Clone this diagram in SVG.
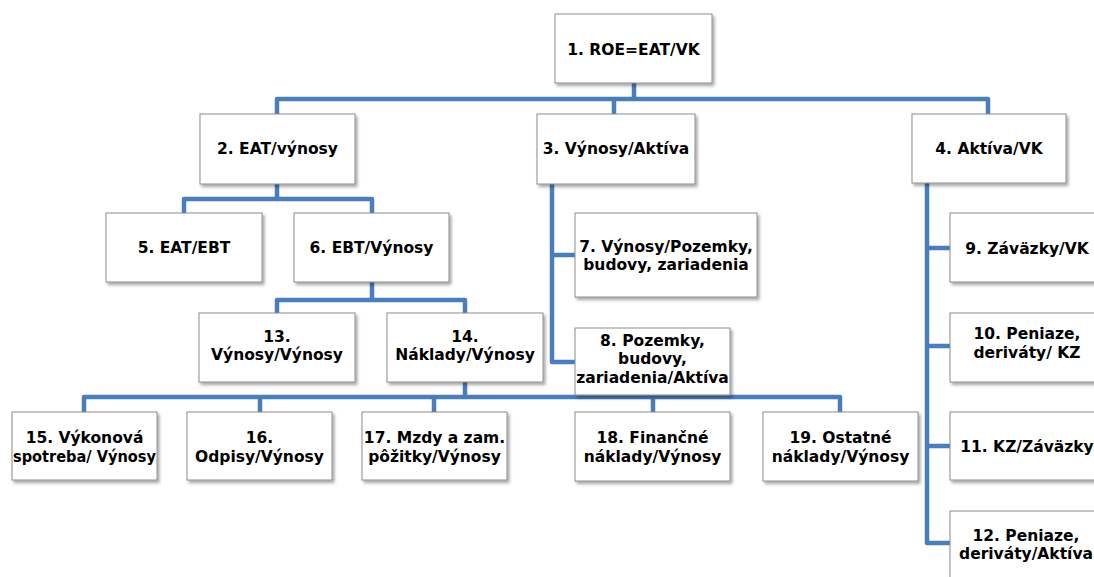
<svg xmlns="http://www.w3.org/2000/svg" width="1094" height="577" viewBox="0 0 1094 577">
<defs>
<filter id="sh" x="-10%" y="-10%" width="125%" height="130%">
<feDropShadow dx="2" dy="2.5" stdDeviation="1.5" flood-color="#000" flood-opacity="0.35"/>
</filter>
<style>
.box{fill:#fff;stroke:#8c8c8c;stroke-width:1;filter:url(#sh)}
.t{font-family:"DejaVu Sans","Liberation Sans",sans-serif;font-weight:bold;font-size:15.5px;fill:#000;text-anchor:middle}
.c{fill:none;stroke:#4a7ebb;stroke-width:4.5;stroke-linejoin:round;stroke-linecap:butt}
</style>
</defs>
<rect width="1094" height="577" fill="#fff"/>
<g id="connectors">
<path class="c" d="M634,83 V99 M277,114 V99 H988 V114 M614,99 V114"/>
<path class="c" d="M277,184 V199 M184,213 V199 H372 V213"/>
<path class="c" d="M372,282 V300 M277,313 V300 H465 V313"/>
<path class="c" d="M465,382 V397 M84,412 V397 H840 V412 M260,397 V412 M434,397 V412 M653,397 V412"/>
<path class="c" d="M552,184 V362 H575 M552,255 H575"/>
<path class="c" d="M927,183 V543 H950 M927,248 H950 M927,346 H950 M927,446 H950"/>
</g>
<g id="n1"><rect class="box" x="555" y="14" width="157" height="69"/><text class="t" x="633.5" y="55">1. ROE=EAT/VK</text></g>
<g id="n2"><rect class="box" x="200" y="114" width="155" height="70"/><text class="t" x="277.5" y="154">2. EAT/výnosy</text></g>
<g id="n3"><rect class="box" x="537" y="114" width="158" height="70"/><text class="t" x="616" y="154">3. Výnosy/Aktíva</text></g>
<g id="n4"><rect class="box" x="912" y="114" width="154" height="69"/><text class="t" x="989" y="154">4. Aktíva/VK</text></g>
<g id="n5"><rect class="box" x="106" y="213" width="156" height="69"/><text class="t" x="184" y="253">5. EAT/EBT</text></g>
<g id="n6"><rect class="box" x="294" y="213" width="155" height="69"/><text class="t" x="371.5" y="253">6. EBT/Výnosy</text></g>
<g id="n7"><rect class="box" x="575" y="213" width="182" height="84"/><text class="t" x="666" y="252">7. Výnosy/Pozemky,</text><text class="t" x="666" y="270">budovy, zariadenia</text></g>
<g id="n8"><rect class="box" x="575" y="328" width="155" height="67"/><text class="t" x="652.5" y="346">8. Pozemky,</text><text class="t" x="652.5" y="364">budovy,</text><text class="t" x="652.5" y="383">zariadenia/Aktíva</text></g>
<g id="n9"><rect class="box" x="950" y="213" width="154" height="69"/><text class="t" x="1027" y="254">9. Záväzky/VK</text></g>
<g id="n10"><rect class="box" x="950" y="313" width="154" height="69"/><text class="t" x="1027" y="339">10. Peniaze,</text><text class="t" x="1027" y="358">deriváty/ KZ</text></g>
<g id="n11"><rect class="box" x="950" y="412" width="154" height="68"/><text class="t" x="1027" y="452">11. KZ/Záväzky</text></g>
<g id="n12"><rect class="box" x="950" y="511" width="154" height="72"/><text class="t" x="1026" y="541">12. Peniaze,</text><text class="t" x="1026" y="559">deriváty/Aktíva</text></g>
<g id="n13"><rect class="box" x="199" y="313" width="156" height="69"/><text class="t" x="277" y="342">13.</text><text class="t" x="277" y="360">Výnosy/Výnosy</text></g>
<g id="n14"><rect class="box" x="387" y="313" width="156" height="69"/><text class="t" x="465" y="342">14.</text><text class="t" x="465" y="360">Náklady/Výnosy</text></g>
<g id="n15"><rect class="box" x="12" y="412" width="145" height="68"/><text class="t" x="84.5" y="443">15. Výkonová</text><text class="t" x="84.5" y="462" textLength="143" lengthAdjust="spacingAndGlyphs">spotreba/ Výnosy</text></g>
<g id="n16"><rect class="box" x="187" y="412" width="145" height="68"/><text class="t" x="259.5" y="443">16.</text><text class="t" x="259.5" y="462">Odpisy/Výnosy</text></g>
<g id="n17"><rect class="box" x="362" y="412" width="145" height="68"/><text class="t" x="434.5" y="443">17. Mzdy a zam.</text><text class="t" x="434.5" y="462">pôžitky/Výnosy</text></g>
<g id="n18"><rect class="box" x="575" y="412" width="155" height="69"/><text class="t" x="652.5" y="443">18. Finančné</text><text class="t" x="652.5" y="462">náklady/Výnosy</text></g>
<g id="n19"><rect class="box" x="763" y="412" width="155" height="69"/><text class="t" x="840.5" y="443">19. Ostatné</text><text class="t" x="840.5" y="462">náklady/Výnosy</text></g>
</svg>
